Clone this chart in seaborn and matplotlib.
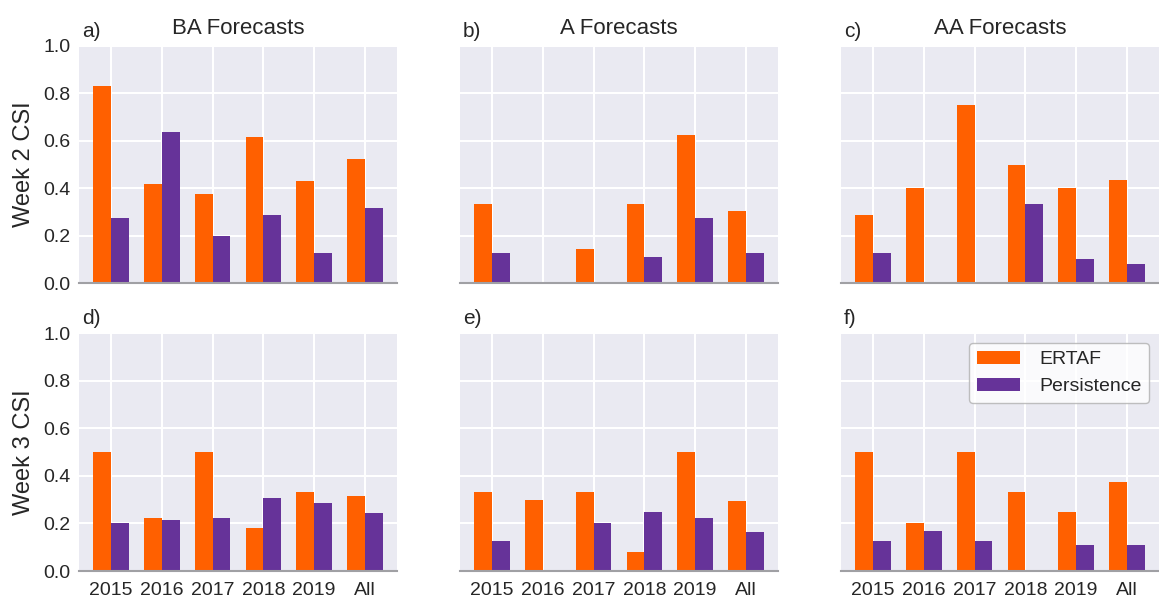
import numpy as np
import pandas as pd
import matplotlib
matplotlib.use("Agg")
import matplotlib.pyplot as plt
import seaborn as sns

years = ["2015", "2016", "2017", "2018", "2019", "All"]
series_names = ["ERTAF", "Persistence"]
colors = ["#ff6000", "#663399"]

# Week 2
w2_ba_ertaf = [0.833, 0.417, 0.375, 0.615, 0.429, 0.522]
w2_ba_pers = [0.273, 0.636, 0.200, 0.286, 0.125, 0.315]
w2_a_ertaf = [0.333, 0.0, 0.143, 0.333, 0.625, 0.305]
w2_a_pers = [0.125, 0.0, 0.0, 0.111, 0.273, 0.126]
w2_aa_ertaf = [0.286, 0.400, 0.750, 0.500, 0.400, 0.435]
w2_aa_pers = [0.125, 0.0, 0.0, 0.333, 0.100, 0.080]
# Week 3
w3_ba_ertaf = [0.500, 0.222, 0.500, 0.182, 0.333, 0.314]
w3_ba_pers = [0.200, 0.214, 0.222, 0.307, 0.286, 0.245]
w3_a_ertaf = [0.333, 0.300, 0.333, 0.080, 0.500, 0.296]
w3_a_pers = [0.125, 0.0, 0.200, 0.250, 0.222, 0.164]
w3_aa_ertaf = [0.500, 0.200, 0.500, 0.333, 0.250, 0.375]
w3_aa_pers = [0.125, 0.167, 0.125, 0.0, 0.111, 0.111]

titles = ["BA Forecasts", "A Forecasts", "AA Forecasts"]
panel_labels = ["a)", "b)", "c)", "d)", "e)", "f)"]
row_labels = ["Week 2 CSI", "Week 3 CSI"]
yticks = [0.0, 0.2, 0.4, 0.6, 0.8, 1.0]

panels = [
    (w2_ba_ertaf, w2_ba_pers), (w2_a_ertaf, w2_a_pers), (w2_aa_ertaf, w2_aa_pers),
    (w3_ba_ertaf, w3_ba_pers), (w3_a_ertaf, w3_a_pers), (w3_aa_ertaf, w3_aa_pers),
]

sns.set_theme(style="darkgrid")
plt.rcParams["font.family"] = ["Liberation Sans", "DejaVu Sans"]

W, H = 1159, 601
fig = plt.figure(figsize=(W / 100, H / 100), dpi=100)

col_x = [79, 460, 841]
ax_w = 318
row_y = [(46, 283), (333, 571)]
txt = "#262626"

for i, (ert, per) in enumerate(panels):
    r, c = divmod(i, 3)
    top, bot = row_y[r]
    ax = fig.add_axes([col_x[c] / W, 1 - bot / H, ax_w / W, (bot - top) / H])
    df = pd.DataFrame({
        "year": years * 2,
        "value": list(ert) + list(per),
        "series": [series_names[0]] * len(years) + [series_names[1]] * len(years),
    })
    sns.barplot(data=df, x="year", y="value", hue="series", order=years,
                hue_order=series_names, palette=colors, width=0.7,
                errorbar=None, linewidth=0, saturation=1, ax=ax,
                legend=(i == 5))
    ax.set_xlim(-0.635, 5.635)
    ax.set_ylim(0, 1.0)
    ax.set_yticks(yticks)
    ax.set_xlabel("")
    ax.set_ylabel("")
    ax.grid(True, color="white", linewidth=1.5)
    ax.set_axisbelow(True)
    for s in ["left", "right", "top"]:
        ax.spines[s].set_visible(False)
    ax.spines["bottom"].set_visible(True)
    ax.spines["bottom"].set_color("#a0a0a4")
    ax.spines["bottom"].set_linewidth(1.5)
    ax.tick_params(axis="both", length=0, labelsize=14, colors=txt)
    ax.tick_params(axis="x", pad=8)
    ax.tick_params(axis="y", pad=6)
    if c == 0:
        ax.set_yticklabels([f"{t:.1f}" for t in yticks])
        ax.set_ylabel(row_labels[r], fontsize=17, color=txt, labelpad=6)
    else:
        ax.set_yticklabels([])
    if r == 0:
        ax.set_xticklabels([])
        ax.set_title(titles[c], fontsize=16, color=txt, pad=9)
    ax.text(0.01, 1.02, panel_labels[i], transform=ax.transAxes, fontsize=15,
            color=txt, ha="left", va="bottom")
    if i == 5:
        ax.legend(loc="upper right", fontsize=14, frameon=True,
                  facecolor="white", framealpha=0.8, edgecolor="#b0b0b0",
                  handlelength=2.2, handletextpad=1.0, title=None)

fig.savefig("out.png", dpi=100)
